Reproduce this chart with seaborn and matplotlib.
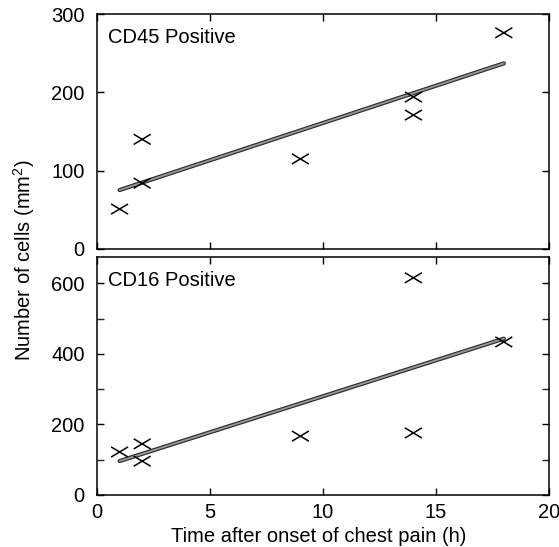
import numpy as np
import pandas as pd
import matplotlib
matplotlib.use("Agg")
import matplotlib.pyplot as plt
import matplotlib.patheffects as pe
from matplotlib.path import Path
from matplotlib.ticker import FixedLocator
import seaborn as sns

# ---- data ----
time_h = [1, 2, 2, 9, 14, 14, 18]
cd45_cells = [51, 140, 84, 115, 194, 171, 276]
cd16_cells = [122, 145, 96, 167, 616, 176, 434]

panel_titles = ["CD45 Positive", "CD16 Positive"]
xlabel = "Time after onset of chest pain (h)"
ylabel = "Number of cells (mm$^{2}$)"
x_ticks = [0, 5, 10, 15, 20]
top_yticks = [0, 100, 200, 300]
bottom_yticks = [0, 200, 400, 600]
bottom_yminor = [100, 300, 500]

sns.set_style("ticks")
plt.rcParams["font.family"] = ["Liberation Sans", "DejaVu Sans"]
plt.rcParams["mathtext.fontset"] = "custom"
plt.rcParams["mathtext.rm"] = "Liberation Sans"
plt.rcParams["mathtext.default"] = "regular"
plt.rcParams["text.color"] = "black"
plt.rcParams["axes.labelcolor"] = "black"

FS = 14.5

# wide, flat "x" marker
xmark = Path([(-1.0, -0.6), (1.0, 0.6), (-1.0, 0.6), (1.0, -0.6)],
             [Path.MOVETO, Path.LINETO, Path.MOVETO, Path.LINETO])

fig = plt.figure(figsize=(5.59, 5.47), dpi=100)
W, H = 559, 547
left, right = 97 / W, 549 / W
ax1 = fig.add_axes([left, 1 - 249 / H, right - left, (249 - 14) / H])
ax2 = fig.add_axes([left, 1 - 495 / H, right - left, (495 - 257) / H])

line_kws = dict(color="#9a9a9a", lw=1.3,
                path_effects=[pe.Stroke(linewidth=3.0, foreground="#2a2a2a"), pe.Normal()])

for ax, vals, title in [(ax1, cd45_cells, panel_titles[0]), (ax2, cd16_cells, panel_titles[1])]:
    df = pd.DataFrame({"t": time_h, "n": vals})
    sns.regplot(data=df, x="t", y="n", ax=ax, ci=None, scatter=False,
                truncate=True, line_kws=line_kws)
    sns.scatterplot(data=df, x="t", y="n", ax=ax, marker=xmark, s=150,
                    facecolor="none", edgecolor="black", linewidth=1.1, zorder=5)
    ax.set_xlim(0, 20)
    ax.set_xticks(x_ticks)
    ax.set_xlabel("")
    ax.set_ylabel("")
    ax.text(0.025, 0.90, title, transform=ax.transAxes, fontsize=FS,
            ha="left", va="center", color="black")
    ax.tick_params(direction="in", top=True, right=True, length=5, width=1,
                   labelsize=FS, colors="black")
    ax.tick_params(axis="y", which="both", pad=9)
    ax.tick_params(axis="x", pad=6)
    for s in ax.spines.values():
        s.set_linewidth(1.1)
        s.set_color("black")

ax1.set_ylim(0, 300)
ax1.set_yticks(top_yticks)
ax1.tick_params(axis="x", labelbottom=False)

ax2.set_ylim(0, 675)
ax2.set_yticks(bottom_yticks)
ax2.yaxis.set_minor_locator(FixedLocator(bottom_yminor))
ax2.tick_params(which="minor", direction="in", right=True, length=5, width=1)

fig.text(319 / W, 1 - 536 / H, xlabel, ha="center", va="center", fontsize=FS, color="black")
fig.text(24 / W, 1 - 260 / H, ylabel, ha="center", va="center", rotation=90,
         fontsize=FS, color="black")

fig.savefig("out.png", dpi=100)
